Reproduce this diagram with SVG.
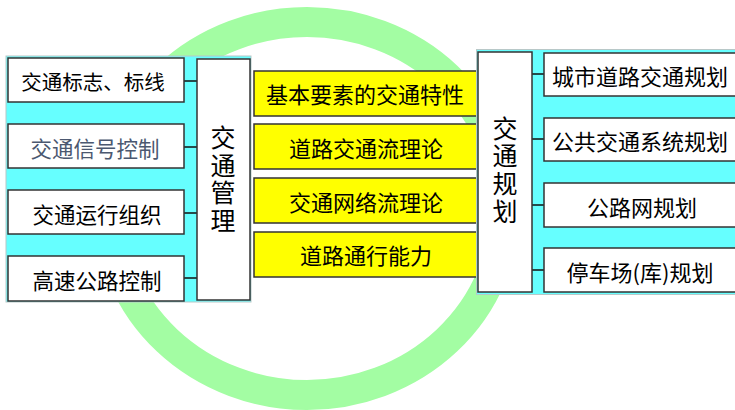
<svg xmlns="http://www.w3.org/2000/svg" width="735" height="410" viewBox="0 0 735 410">
<style>
.panel{fill:#66ffff;stroke:#b8c8c8;stroke-width:1}
.box{fill:#ffffff;stroke:#333333;stroke-width:1.5}
.ybox{fill:#ffff00;stroke:#333333;stroke-width:1.5}
.t{font-family:"Noto Sans CJK SC","Noto Sans",sans-serif;font-size:21.5px;fill:#000;text-anchor:middle;dominant-baseline:central}
.tr{font-size:22px}
.v{font-family:"Noto Sans CJK SC","Noto Sans",sans-serif;font-size:25px;fill:#000;text-anchor:middle;writing-mode:vertical-rl;letter-spacing:2.7px}
.conn{stroke:#111111;stroke-width:1.5;fill:none}
</style>
<rect width="735" height="410" fill="#ffffff"/>
<ellipse id="ring" cx="307" cy="208.5" rx="198" ry="186.5" fill="none" stroke="#a3fda3" stroke-width="30"/>
<g id="panel-left"><rect class="panel" x="6" y="56" width="245" height="246"/></g>
<g id="connectors-left">
<line class="conn" x1="184" y1="81" x2="197" y2="81"/>
<line class="conn" x1="184" y1="147" x2="197" y2="147"/>
<line class="conn" x1="184" y1="213" x2="197" y2="213"/>
<line class="conn" x1="184" y1="278" x2="197" y2="278"/>
</g>
<g id="n-biaozhi"><rect class="box" x="8" y="58" width="176" height="44"/><text class="t" x="93" y="81" style="font-size:20.5px">交通标志、标线</text></g>
<g id="n-xinhao"><rect class="box" x="8" y="124" width="176" height="44"/><text class="t" x="95" y="147" style="fill:#4b5870">交通信号控制</text></g>
<g id="n-yunxing"><rect class="box" x="8" y="190" width="176" height="44"/><text class="t" x="97" y="213">交通运行组织</text></g>
<g id="n-gaosu"><rect class="box" x="8" y="256" width="176" height="45"/><text class="t" x="97" y="279">高速公路控制</text></g>
<g id="n-guanli"><rect class="box" x="197" y="59" width="53" height="241"/>
<text class="v" x="223" y="180.5">交通管理</text></g>
<g id="n-jiben"><rect class="ybox" x="254" y="71" width="230" height="45"/><text class="t tr" x="365" y="93">基本要素的交通特性</text></g>
<g id="n-daolu"><rect class="ybox" x="254" y="124" width="230" height="45"/><text class="t tr" x="366" y="147">道路交通流理论</text></g>
<g id="n-wangluo"><rect class="ybox" x="254" y="178" width="230" height="45"/><text class="t tr" x="366" y="201">交通网络流理论</text></g>
<g id="n-nengli"><rect class="ybox" x="254" y="232" width="230" height="45"/><text class="t tr" x="366" y="254">道路通行能力</text></g>
<g id="panel-right"><rect class="panel" x="476.5" y="49.5" width="270" height="245"/></g>
<g id="connectors-right">
<line class="conn" x1="532" y1="74" x2="544" y2="74"/>
<line class="conn" x1="532" y1="139" x2="544" y2="139"/>
<line class="conn" x1="532" y1="205" x2="544" y2="205"/>
<line class="conn" x1="532" y1="270" x2="544" y2="270"/>
</g>
<g id="n-guihua"><rect class="box" x="478" y="52" width="54" height="240"/>
<text class="v" x="505" y="171">交通规划</text></g>
<g id="n-chengshi"><rect class="box" x="544" y="53" width="200" height="43"/><text class="t tr" x="640" y="75">城市道路交通规划</text></g>
<g id="n-gonggong"><rect class="box" x="544" y="118" width="200" height="43"/><text class="t tr" x="640" y="140">公共交通系统规划</text></g>
<g id="n-gongluwang"><rect class="box" x="544" y="183" width="200" height="44"/><text class="t tr" x="642" y="206">公路网规划</text></g>
<g id="n-tingche"><rect class="box" x="544" y="248" width="200" height="44"/><text class="t tr" x="640" y="271">停车场(库)规划</text></g>
</svg>
